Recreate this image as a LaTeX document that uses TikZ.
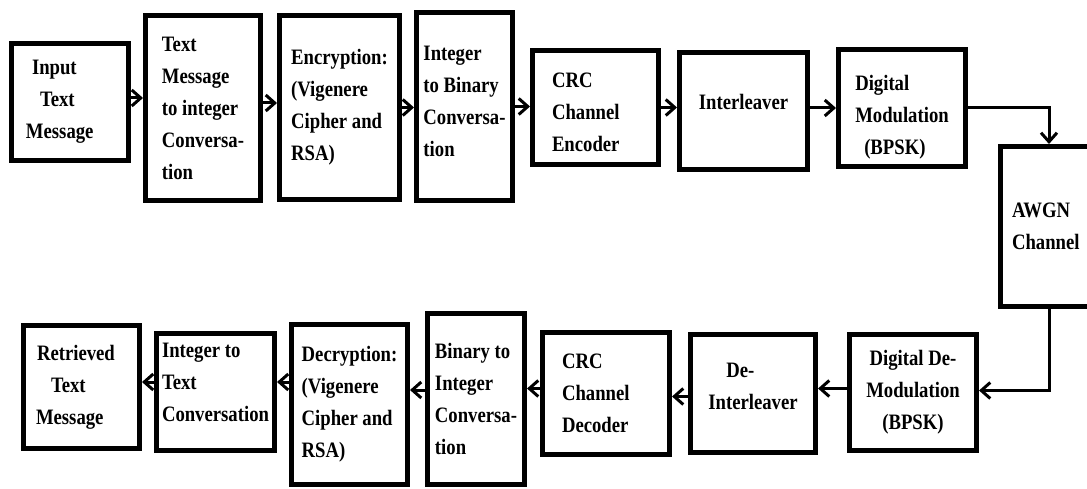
\documentclass[tikz,border=0pt]{standalone}
\usepackage{fontspec}
\newfontfamily\blkfont{Liberation Serif}[FakeStretch=0.85]
\usetikzlibrary{arrows.meta}

\begin{document}
\begin{tikzpicture}[x=1pt, y=-1pt]
                \tikzset{blk/.style={draw, line width=5pt, align=left, inner sep=0pt,
                    font=\blkfont\bfseries\fontsize{22pt}{32pt}\selectfont}}
                \tikzset{arr/.style={line width=3pt, -{Straight Barb[length=9pt, width=16pt]}}}
                \useasboundingbox (0,0) rectangle (1087,489);

                % TRANSMITTER
                \node[blk, minimum width=117pt, minimum height=117pt, text width=88pt] (in) at (70,102) {\hspace*{6pt}Input\\\hspace*{14pt}Text\\Message};
                \node[blk, minimum width=115pt, minimum height=185pt] (txt2int) at (203,108) {Text\\Message\\to integer\\Conversa-\\tion};
                \node[blk, minimum width=120pt, minimum height=184pt] (enc) at (339.5,107.5) {Encryption:\\(Vigenere\\Cipher and\\RSA)};
                \node[blk, minimum width=96pt, minimum height=188pt] (int2bin) at (464.5,106.5) {Integer\\to Binary\\Conversa-\\tion\rule[-10pt]{0pt}{0pt}};
                \node[blk, minimum width=126pt, minimum height=114pt, text width=87pt] (crcenc) at (595.5,107.5) {\rule{0pt}{24pt}CRC\\Channel\\Encoder};
                \node[blk, minimum width=128pt, minimum height=117pt] (intl) at (743.5,111) {Interleaver\rule[-18pt]{0pt}{0pt}};
                \node[blk, minimum width=127pt, minimum height=117pt] (mod) at (902,108) {\rule{0pt}{33pt}Digital\\Modulation\\\hspace*{9pt}(BPSK)};

                % CHANNEL
                \node[blk, minimum width=97pt, minimum height=160pt, text width=74pt] (awgn) at (1049,226.5) {AWGN\\Channel};

                % RECEIVER
                \node[blk, minimum width=127pt, minimum height=116pt, align=center] (demod) at (913,392.5) {Digital De-\\Modulation\\(BPSK)};
                \node[blk, minimum width=125pt, minimum height=118pt] (deintl) at (753,393.5) {\hspace*{18pt}De-\\Interleaver\rule[-14pt]{0pt}{0pt}};
                \node[blk, minimum width=127pt, minimum height=122pt, text width=88pt] (crcdec) at (606,393.5) {CRC\\Channel\\Decoder};
                \node[blk, minimum width=97pt, minimum height=171pt] (bin2int) at (476,399) {Binary to\\Integer\\Conversa-\\tion};
                \node[blk, minimum width=116pt, minimum height=160pt] (dec) at (349.5,404.5) {Decryption:\\(Vigenere\\Cipher and\\RSA)};
                \node[blk, minimum width=118pt, minimum height=117pt] (int2txt) at (215.5,392) {Integer to\\Text\\Conversation\rule[-20pt]{0pt}{0pt}};
                \node[blk, minimum width=116pt, minimum height=123pt, text width=91pt] (ret) at (81.5,387) {\hspace*{1pt}Retrieved\\\hspace*{15pt}Text\\Message};

                % CONNECTIONS
                \path[arr]
                    ([yshift=4pt]in.east) edge ([yshift=4pt]in.east -| txt2int.west)
                    ([yshift=5pt]txt2int.east) edge ([yshift=5pt]txt2int.east -| enc.west)
                    (enc.east) edge (enc.east -| int2bin.west)
                    (int2bin.east) edge (int2bin.east -| crcenc.west)
                    (crcenc.east) edge (crcenc.east -| intl.west)
                    ([yshift=3pt]intl.east) edge ([yshift=3pt]intl.east -| mod.west);

                \draw[arr] (mod.east) -| (awgn.north);
                \draw[arr] (awgn.south) |- ([yshift=2pt]demod.east);

                \path[arr]
                    ([yshift=4pt]demod.west) edge ([yshift=4pt]demod.west -| deintl.east)
                    ([yshift=-3pt]deintl.west) edge ([yshift=-3pt]deintl.west -| crcdec.east)
                    ([yshift=5pt]crcdec.west) edge ([yshift=5pt]crcdec.west -| bin2int.east)
                    ([yshift=9pt]bin2int.west) edge ([yshift=9pt]bin2int.west -| dec.east)
                    ([yshift=10pt]int2txt.east -| dec.west) edge ([yshift=10pt]int2txt.east)
                    ([yshift=10pt]int2txt.west) edge ([yshift=10pt]int2txt.west -| ret.east);

            \end{tikzpicture}
\end{document}
